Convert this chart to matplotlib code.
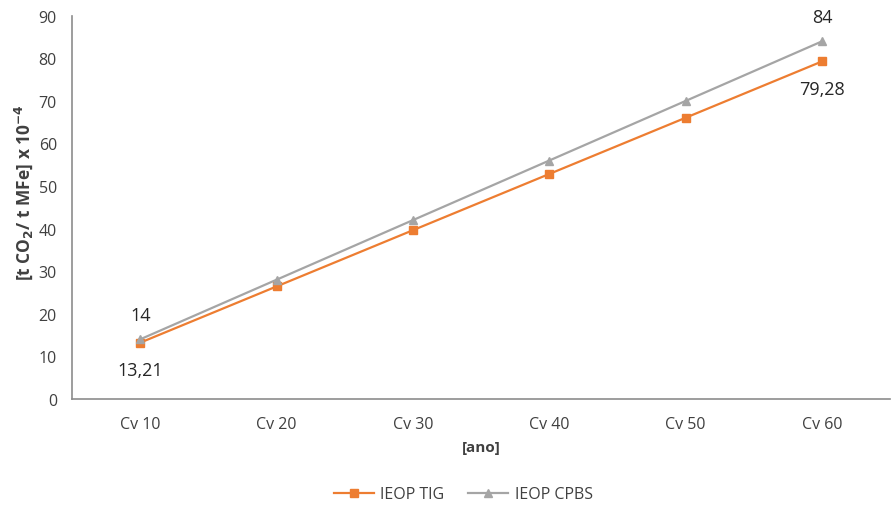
import matplotlib
matplotlib.use('Agg')
import matplotlib.pyplot as plt

# Emission series per campaign
categories = ['Cv 10', 'Cv 20', 'Cv 30', 'Cv 40', 'Cv 50', 'Cv 60']
ieop_tig = [13.21, 26.42, 39.63, 52.84, 66.05, 79.28]
ieop_cpbs = [14, 28, 42, 56, 70, 84]

ORANGE = '#ED7D31'
GRAY = '#A5A5A5'
AXIS = '#8C8C8C'
TEXT = '#404040'

plt.rcParams['font.family'] = ['Open Sans', 'DejaVu Sans']

fig = plt.figure(figsize=(8.91, 5.10), dpi=100)
ax = fig.add_axes([0.081, 0.216, 0.918, 0.751])

x = list(range(len(categories)))
ax.plot(x, ieop_tig, color=ORANGE, lw=1.6, marker='s', ms=6, label='IEOP TIG')
ax.plot(x, ieop_cpbs, color=GRAY, lw=1.6, marker='^', ms=6, label='IEOP CPBS')

# Labels on the first and last points only
def fmt(v):
    return f'{v:g}'.replace('.', ',')

for i in (0, len(x) - 1):
    ax.annotate(fmt(ieop_cpbs[i]), (x[i], ieop_cpbs[i]), xytext=(0, 11),
                textcoords='offset points', ha='center', va='bottom',
                fontsize=13, color='#262626')
    ax.annotate(fmt(ieop_tig[i]), (x[i], ieop_tig[i]), xytext=(0, -13),
                textcoords='offset points', ha='center', va='top',
                fontsize=13, color='#262626')

ax.set_xlim(-0.5, len(x) - 0.5)
ax.set_ylim(0, 90)
ax.set_yticks(range(0, 91, 10))
ax.set_xticks(x)
ax.set_xticklabels(categories)
ax.tick_params(axis='both', length=0, labelsize=11.5, colors=TEXT)
ax.tick_params(axis='x', pad=12)
ax.tick_params(axis='y', pad=11)

for side in ('top', 'right'):
    ax.spines[side].set_visible(False)
for side in ('left', 'bottom'):
    ax.spines[side].set_color(AXIS)
    ax.spines[side].set_linewidth(1.2)

ax.set_ylabel(r'[t CO$_\mathbf{2}$/ t MFe] x 10$^\mathbf{-4}$', fontsize=12.5,
              fontweight='bold', color=TEXT)
ax.yaxis.set_label_coords(-0.046, 0.54)
ax.set_xlabel('[ano]', fontsize=11, fontweight='bold', color=TEXT, labelpad=6)

fig.legend(loc='lower center', bbox_to_anchor=(0.52, -0.015), ncol=2, frameon=False,
           fontsize=11.5, labelcolor=TEXT, handlelength=2.5, columnspacing=1.5,
           handletextpad=0.4, markerscale=0.85)

fig.savefig('out.png', dpi=100)
